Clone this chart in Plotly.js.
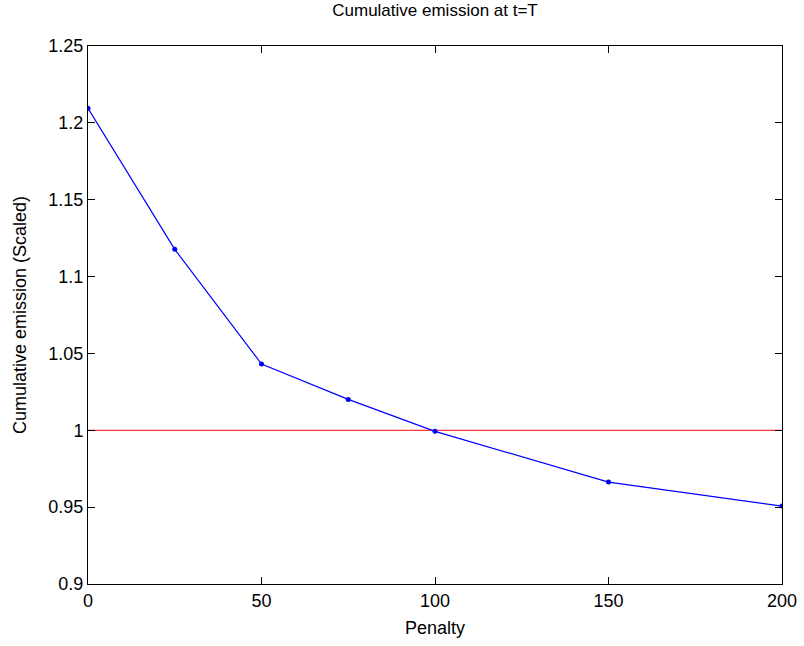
<!DOCTYPE html>
<html>
<head>
<meta charset="utf-8">
<script src="https://cdn.plot.ly/plotly-3.0.1.min.js"></script>
<style>html,body{margin:0;padding:0;background:#fff;}#chart{width:804px;height:646px;}</style>
</head>
<body>
<div id="chart"></div>
<script>
const penalty = [0, 25, 50, 75, 100, 150, 200];
const emission = [1.2095, 1.1177, 1.0431, 1.0201, 0.9993, 0.9663, 0.9507];
const refX = [0, 200];
const refY = [1, 1];
const xTicks = [0, 50, 100, 150, 200];
const yTicks = [0.9, 0.95, 1, 1.05, 1.1, 1.15, 1.2, 1.25];
const yTickText = ['0.9', '0.95', '1', '1.05', '1.1', '1.15', '1.2', '1.25'];

const font = {family: 'Liberation Sans, Arial, sans-serif', size: 18, color: '#000'};

Plotly.newPlot('chart', [
  {x: refX, y: refY, mode: 'lines', line: {color: '#ff0000', width: 1}, hoverinfo: 'skip'},
  {x: penalty, y: emission, mode: 'lines+markers', line: {color: '#0000ff', width: 1.2},
   marker: {color: '#0000ff', size: 5}}
], {
  width: 804, height: 646,
  margin: {l: 88, r: 22, t: 46, b: 62},
  paper_bgcolor: '#fff', plot_bgcolor: '#fff',
  showlegend: false,
  font: font,
  title: {text: 'Cumulative emission at t=T', font: {family: font.family, size: 17, color: '#000'},
          x: 0.5, xref: 'paper', y: 1 - 4/646, yanchor: 'top'},
  xaxis: {range: [0, 200], tickvals: xTicks, ticks: 'inside', ticklen: 7, tickcolor: '#000',
          showline: true, linecolor: '#000', linewidth: 1, mirror: 'ticks', showgrid: false, zeroline: false,
          tickfont: font, title: {text: 'Penalty', font: font, standoff: 11}},
  yaxis: {range: [0.9, 1.25], tickvals: yTicks, ticktext: yTickText, ticks: 'inside', ticklen: 7, tickcolor: '#000',
          showline: true, linecolor: '#000', linewidth: 1, mirror: 'ticks', showgrid: false, zeroline: false,
          tickfont: font, title: {text: 'Cumulative emission (Scaled)', font: font, standoff: 17}}
}, {displayModeBar: false});
</script>
</body>
</html>
